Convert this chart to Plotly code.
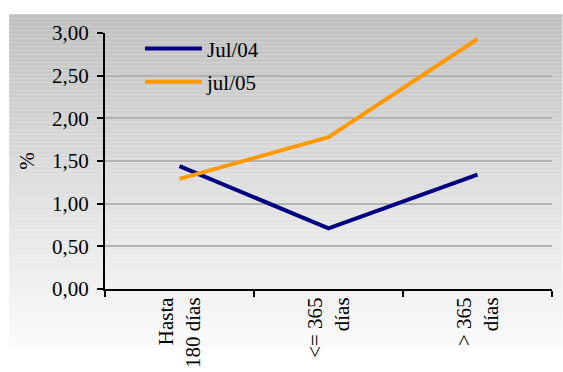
import plotly.graph_objects as go

# Plazos y tasas (%)
categorias = ["Hasta<br>180 días", "<= 365<br>días", "> 365<br>días"]
jul04 = [1.44, 0.71, 1.34]
jul05 = [1.29, 1.78, 2.93]
y_ticks = [0, 0.5, 1, 1.5, 2, 2.5, 3]

FONT = "Liberation Serif"

fig = go.Figure()
fig.add_trace(go.Scatter(x=categorias, y=jul04, mode="lines", name="Jul/04",
                         legendgroup="a",
                         line=dict(color="#000080", width=4)))
fig.add_trace(go.Scatter(x=categorias, y=jul05, mode="lines", name="jul/05",
                         legendgroup="b",
                         line=dict(color="#FF9900", width=4)))

# vertical grey gradient behind the chart, built from thin strips
L, R, T, B = 105, 10.5, 32.7, 83.3
W, H = 563, 372
pw, ph = W - L - R, H - T - B
def px_x(x):
    return (x - L) / pw
def px_y(y):
    return (H - B - y) / ph

top, bottom = 14, 348
c0, c1 = 192, 251
def grey_at(y):
    return round(c0 + (c1 - c0) * (y - top) / (bottom - top))

shapes = []
y = top
while y < bottom:
    y2 = min(y + 4, bottom)
    c = grey_at((y + y2) / 2)
    shapes.append(dict(type="rect", xref="paper", yref="paper", layer="below",
                       x0=px_x(9), x1=px_x(563), y0=px_y(y2), y1=px_y(y),
                       fillcolor=f"rgb({c},{c},{c})", line=dict(width=0)))
    y = y2

# the legend box hides the 2,50 gridline behind it
g = 2.5
gy = H - B - g / 3 * ph
c = grey_at(gy)
shapes.append(dict(type="rect", xref="paper", yref="y", layer="between",
                   x0=px_x(123), x1=px_x(278), y0=g - 0.03, y1=g + 0.03,
                   fillcolor=f"rgb({c},{c},{c})", line=dict(width=0)))

fig.update_layout(
    width=W, height=H,
    margin=dict(l=L, r=R, t=T, b=B, pad=0),
    paper_bgcolor="white",
    plot_bgcolor="rgba(0,0,0,0)",
    separators=",.",
    font=dict(family=FONT, size=21, color="black"),
    shapes=shapes,
    showlegend=True,
    legend=dict(x=px_x(140), y=px_y(28), xanchor="left", yanchor="top",
                bgcolor="rgba(0,0,0,0)", font=dict(size=21, family=FONT),
                traceorder="grouped", tracegroupgap=3, itemwidth=57),
    xaxis=dict(type="category", range=[-0.5, 2.5], tickson="boundaries",
               ticks="outside", ticklen=6, tickwidth=2, tickcolor="black",
               showline=True, linecolor="black", linewidth=2,
               showgrid=False, tickangle=-90, automargin=False,
               ticklabelstandoff=-2,
               tickfont=dict(size=21, family=FONT)),
    yaxis=dict(range=[0, 3], tickvals=y_ticks, tickformat=".2f",
               ticks="outside", ticklen=6, tickwidth=2, tickcolor="black",
               showline=True, linecolor="black", linewidth=2,
               showgrid=True, gridcolor="rgb(178,178,178)", gridwidth=1.5,
               zeroline=False, ticklabelstandoff=4, automargin=False,
               title=dict(text="%", standoff=12, font=dict(size=21, family=FONT)),
               tickfont=dict(size=21, family=FONT)),
)

fig.write_html("out.html")
